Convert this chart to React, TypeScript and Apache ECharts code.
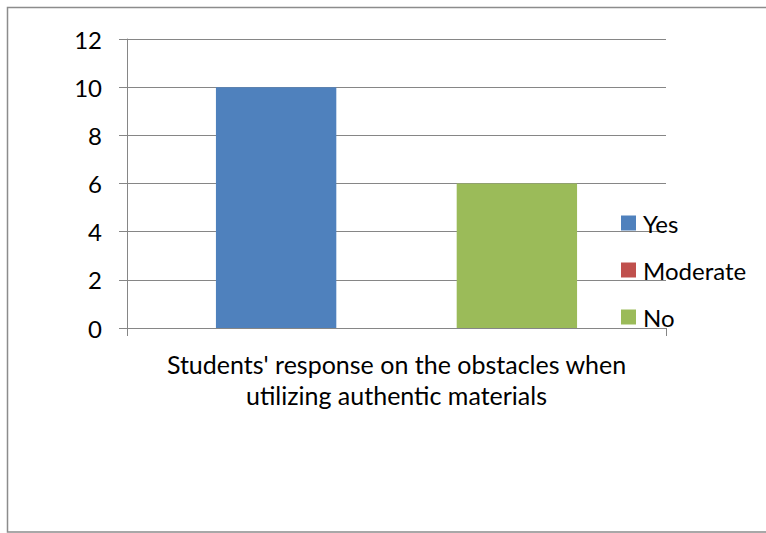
import React, { useEffect, useRef } from "react";
import * as echarts from "echarts";

const categories = ["Students' response on the obstacles when\nutilizing authentic materials"];
const seriesNames = ["Yes", "Moderate", "No"];
const yesValues = [10];
const moderateValues = [0];
const noValues = [6];
const seriesColors = ["#4F81BD", "#C0504D", "#9BBB59"];

const FONT = "Lato";

export default function App() {
  const ref = useRef<HTMLDivElement>(null);

  useEffect(() => {
    if (!ref.current) return;
    const chart = echarts.init(ref.current, null, { renderer: "svg" });
    const values = [yesValues, moderateValues, noValues];
    chart.setOption({
      animation: false,
      backgroundColor: "#ffffff",
      textStyle: { fontFamily: FONT, color: "#000" },
      graphic: [
        {
          type: "rect",
          shape: { x: 7.5, y: 7.5, width: 800, height: 524.5 },
          style: { fill: "none", stroke: "#8c8c8c", lineWidth: 1.5 },
          silent: true,
        },
      ],
      grid: { left: 127, right: 100, top: 39, bottom: 205 },
      legend: {
        orient: "vertical",
        left: 621,
        top: 211,
        padding: 0,
        itemWidth: 15,
        itemHeight: 15,
        itemGap: 23,
        icon: "rect",
        textStyle: { fontFamily: FONT, fontSize: 24, color: "#000", lineHeight: 15, padding: [0, 0, 0, 2] },
        data: seriesNames,
      },
      xAxis: {
        type: "category",
        data: categories,
        axisLine: { lineStyle: { color: "#868686", width: 1 } },
        axisTick: { show: true, length: 8, lineStyle: { color: "#868686" } },
        axisLabel: {
          fontFamily: FONT,
          fontSize: 25,
          color: "#000",
          lineHeight: 31,
          margin: 20,
          align: "center",
        },
      },
      yAxis: {
        type: "value",
        min: 0,
        max: 12,
        interval: 2,
        axisLine: { show: true, lineStyle: { color: "#868686", width: 1 } },
        axisTick: { show: true, length: 8, lineStyle: { color: "#868686" } },
        splitLine: { lineStyle: { color: "#868686", width: 1 } },
        axisLabel: { fontFamily: FONT, fontSize: 24, color: "#000", margin: 25 },
      },
      series: seriesNames.map((name, i) => ({
        name,
        type: "bar",
        data: values[i],
        barGap: "0%",
        barCategoryGap: "33%",
        itemStyle: { color: seriesColors[i] },
      })),
    });
    return () => chart.dispose();
  }, []);

  return (
    <div
      ref={ref}
      style={{ position: "fixed", left: 0, top: 0, width: 766, height: 533 }}
    />
  );
}
